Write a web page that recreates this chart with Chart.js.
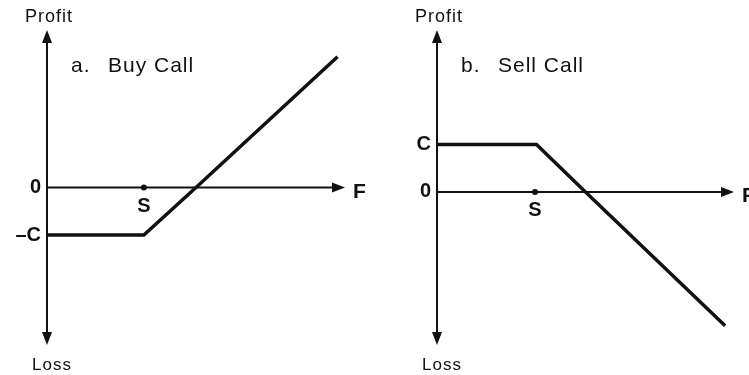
<!DOCTYPE html>
<html>
<head>
<meta charset="utf-8">
<script src="https://cdn.jsdelivr.net/npm/chart.js@4"></script>
<style>
  body { margin: 0; background: #fff; }
  #wrap { position: relative; width: 749px; height: 375px; overflow: hidden; }
  canvas { position: absolute; top: 0; }
</style>
</head>
<body>
<div id="wrap">
  <canvas id="buyChart" width="374" height="375" style="left:0"></canvas>
  <canvas id="sellChart" width="375" height="375" style="left:374px"></canvas>
</div>
<script>
// profit / loss at expiry against the futures price F
const buyF = [0, 3.25, 5, 9.75];
const buyProfit = [-1.6, -1.6, 0, 4.4];
const sellF = [0, 3.35, 5, 9.7];
const sellProfit = [1.6, 1.6, 0, -4.5];

// strike price S and the labelled profit levels
const buyStrike = 3.25;
const sellStrike = 3.3;
const buyTickValues = [0, -1.6];
const buyTickLabels = ["0", "\u2013C"];
const sellTickValues = [1.6, 0];
const sellTickLabels = ["C", "0"];

const INK = '#111';
const FONT = '"Liberation Sans", Arial, sans-serif';

// little filled arrow head, tip at (tx, ty) pointing along (dx, dy)
function arrowHead(ctx, tx, ty, dx, dy) {
    const len = 13, half = 5;
    const bx = tx - dx * len, by = ty - dy * len;
    ctx.beginPath();
    ctx.moveTo(tx, ty);
    ctx.lineTo(bx - dy * half, by + dx * half);
    ctx.lineTo(bx + dy * half, by - dx * half);
    ctx.closePath();
    ctx.fill();
}

// draws the profit/loss axes, tick labels, strike point and titles
const payoffAxes = {
    id: 'payoffAxes',
    beforeDatasetsDraw(chart, args, opts) {
        const { ctx, chartArea: a, scales: { x, y } } = chart;
        const x0 = x.getPixelForValue(0);
        const y0 = y.getPixelForValue(0);
        ctx.save();
        ctx.strokeStyle = INK;
        ctx.fillStyle = INK;
        ctx.lineWidth = 2;
        ctx.beginPath();
        ctx.moveTo(x0, a.top + 8);
        ctx.lineTo(x0, a.bottom - 8);
        ctx.moveTo(x0, y0);
        ctx.lineTo(a.right - 8, y0);
        ctx.stroke();
        arrowHead(ctx, x0, a.top, 0, -1);
        arrowHead(ctx, x0, a.bottom, 0, 1);
        arrowHead(ctx, a.right, y0, 1, 0);
        ctx.restore();
    },
    afterDatasetsDraw(chart, args, opts) {
        const { ctx, chartArea: a, scales: { x, y } } = chart;
        const x0 = x.getPixelForValue(0);
        const y0 = y.getPixelForValue(0);
        const sx = x.getPixelForValue(opts.strike);
        ctx.save();
        ctx.fillStyle = INK;

        // strike point on the F axis
        ctx.beginPath();
        ctx.arc(sx, y0, 3, 0, Math.PI * 2);
        ctx.fill();

        ctx.font = 'bold 20px ' + FONT;
        ctx.textAlign = 'center';
        ctx.textBaseline = 'alphabetic';
        ctx.fillText('S', sx, y0 + 24);

        ctx.textAlign = 'left';
        ctx.font = 'bold 21px ' + FONT;
        ctx.fillText('F', a.right + 8, y0 + 10);

        // y tick labels
        ctx.font = 'bold 20px ' + FONT;
        ctx.textAlign = 'right';
        ctx.textBaseline = 'middle';
        opts.tickValues.forEach((v, i) => {
            ctx.fillText(opts.tickLabels[i], x0 - 6, y.getPixelForValue(v));
        });

        // axis names
        ctx.letterSpacing = '1px';
        ctx.textAlign = 'center';
        ctx.textBaseline = 'alphabetic';
        ctx.font = '18px ' + FONT;
        ctx.fillText('Profit', x0 + 2, 22);
        ctx.font = '17px ' + FONT;
        ctx.fillText('Loss', x0 + 5, 370);

        // panel title
        ctx.textAlign = 'left';
        ctx.font = '21px ' + FONT;
        ctx.fillText(opts.title[0], x0 + 24, 72);
        ctx.fillText(opts.title[1], x0 + 61, 72);
        ctx.restore();
    }
};

function makePayoffChart(canvasId, fValues, profitValues, yMin, yMax, padding, extra) {
    const points = fValues.map((f, i) => ({ x: f, y: profitValues[i] }));
    return new Chart(document.getElementById(canvasId), {
        type: 'line',
        data: {
            datasets: [{
                data: points,
                borderColor: INK,
                borderWidth: 3.5,
                pointRadius: 0,
                tension: 0,
                fill: false
            }]
        },
        options: {
            responsive: false,
            animation: false,
            layout: { padding },
            scales: {
                x: { type: 'linear', min: 0, max: 10, display: false },
                y: { min: yMin, max: yMax, display: false }
            },
            plugins: {
                legend: { display: false },
                tooltip: { enabled: false },
                payoffAxes: extra
            }
        },
        plugins: [payoffAxes]
    });
}

makePayoffChart('buyChart', buyF, buyProfit, -5.3, 5.3,
    { left: 47, right: 29, top: 30, bottom: 30 },
    { strike: buyStrike, tickValues: buyTickValues, tickLabels: buyTickLabels, title: ['a.', 'Buy Call'] });

makePayoffChart('sellChart', sellF, sellProfit, -5.15, 5.45,
    { left: 63, right: 15, top: 30, bottom: 30 },
    { strike: sellStrike, tickValues: sellTickValues, tickLabels: sellTickLabels, title: ['b.', 'Sell Call'] });
</script>
</body>
</html>
